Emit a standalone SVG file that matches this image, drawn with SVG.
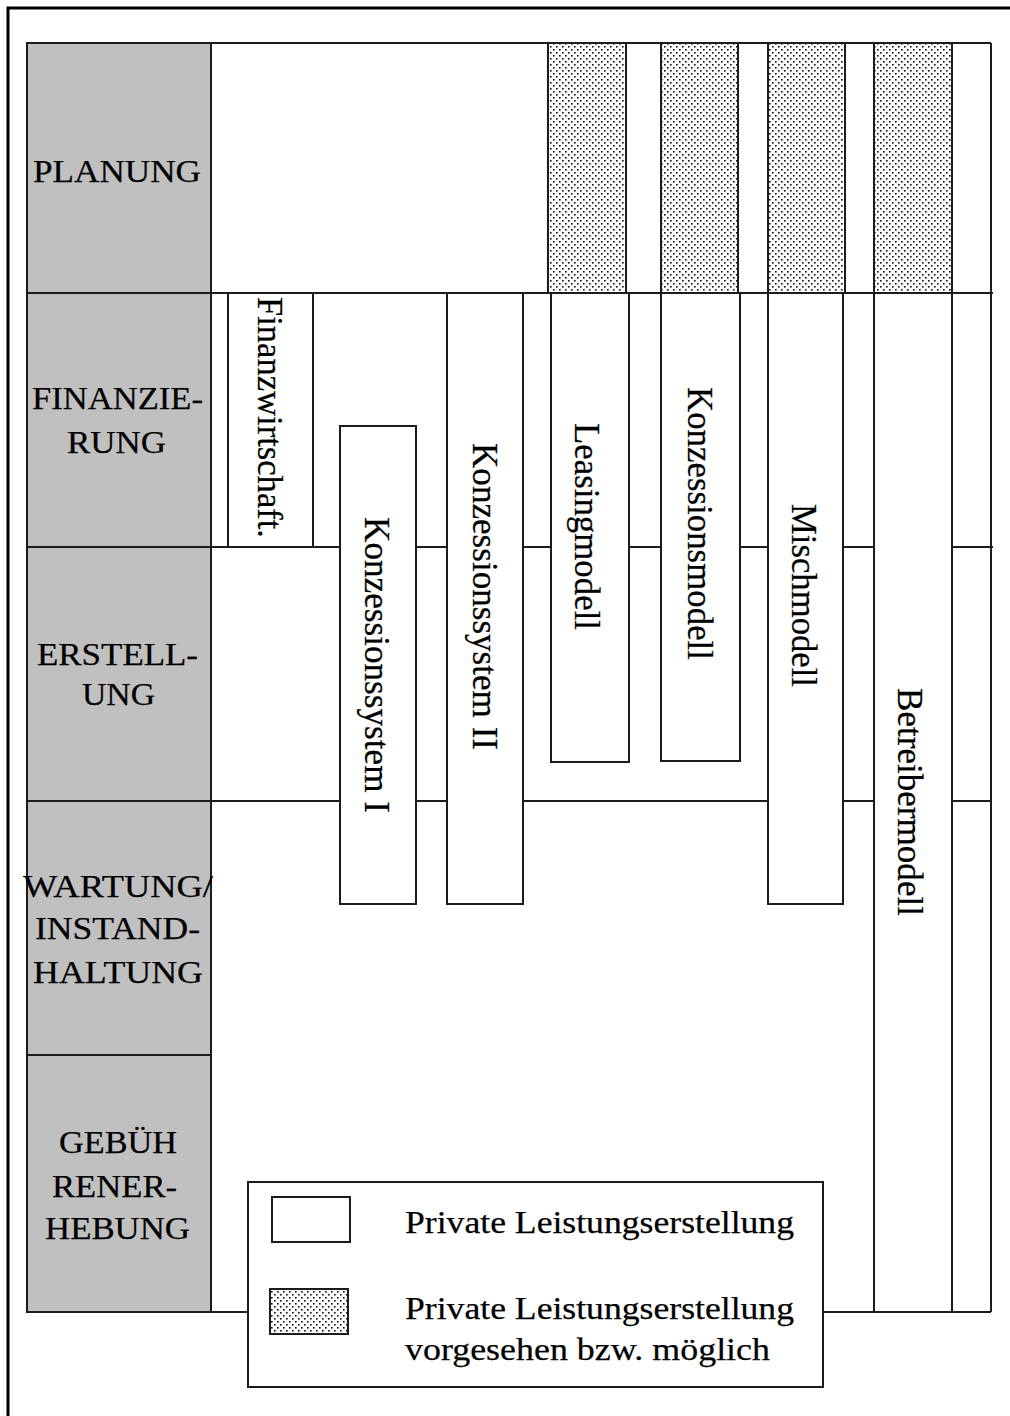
<svg xmlns="http://www.w3.org/2000/svg" width="1010" height="1416" viewBox="0 0 1010 1416">
  <style>
    .ln { stroke: #1c1c1c; stroke-width: 2; fill: none; }
    .box { stroke: #1c1c1c; stroke-width: 2; fill: #ffffff; }
    .dot { stroke: #1c1c1c; stroke-width: 2; fill: url(#stipple); }
    .hdr { fill: #c0c0c0; stroke: #1c1c1c; stroke-width: 2; }
    .lbl { font-family: "Liberation Serif", "Times New Roman", serif; font-size: 31px; fill: #000; stroke: #000; stroke-width: 0.25; }
    .vt { font-family: "Liberation Serif", "Times New Roman", serif; font-size: 36px; fill: #000; stroke: #000; stroke-width: 0.25; }
  </style>
  <defs>
    <pattern id="stipple" x="0" y="0" width="6" height="6" patternUnits="userSpaceOnUse">
      <rect width="6" height="6" fill="#ffffff"/>
      <rect x="1" y="1" width="1.6" height="1.6" fill="#111"/>
      <rect x="4" y="4" width="1.6" height="1.6" fill="#111"/>
    </pattern>
  </defs>

  <rect width="1010" height="1416" fill="#ffffff"/>

  <!-- outer frame -->
  <path d="M8 1416 V8 H1010" stroke="#000" stroke-width="3" fill="none"/>

  <!-- phase headers (left column) -->
  <g id="phase-planung">
    <rect class="hdr" x="27" y="43" width="184" height="250"/>
    <text class="lbl" x="33" y="182" textLength="168" lengthAdjust="spacingAndGlyphs">PLANUNG</text>
  </g>
  <g id="phase-finanzierung">
    <rect class="hdr" x="27" y="293" width="184" height="254"/>
    <text class="lbl" x="32" y="409" textLength="171" lengthAdjust="spacingAndGlyphs">FINANZIE-</text>
    <text class="lbl" x="67" y="453" textLength="99" lengthAdjust="spacingAndGlyphs">RUNG</text>
  </g>
  <g id="phase-erstellung">
    <rect class="hdr" x="27" y="547" width="184" height="254"/>
    <text class="lbl" x="37" y="665" textLength="161" lengthAdjust="spacingAndGlyphs">ERSTELL-</text>
    <text class="lbl" x="82" y="705" textLength="73" lengthAdjust="spacingAndGlyphs">UNG</text>
  </g>
  <g id="phase-wartung">
    <rect class="hdr" x="27" y="801" width="184" height="254"/>
    <text class="lbl" x="23" y="897" textLength="190" lengthAdjust="spacingAndGlyphs">WARTUNG/</text>
    <text class="lbl" x="35" y="939" textLength="165" lengthAdjust="spacingAndGlyphs">INSTAND-</text>
    <text class="lbl" x="33" y="983" textLength="170" lengthAdjust="spacingAndGlyphs">HALTUNG</text>
  </g>
  <g id="phase-gebuehren">
    <rect class="hdr" x="27" y="1055" width="184" height="257"/>
    <text class="lbl" x="59" y="1153" textLength="118" lengthAdjust="spacingAndGlyphs">GEBÜH</text>
    <text class="lbl" x="52" y="1197" textLength="125" lengthAdjust="spacingAndGlyphs">RENER-</text>
    <text class="lbl" x="45" y="1239" textLength="145" lengthAdjust="spacingAndGlyphs">HEBUNG</text>
  </g>

  <!-- table grid lines -->
  <g id="grid">
    <path class="ln" d="M211 43 H991 M211 293 H993 M991 43 V1312 M952 43 V1312"/>
    <path class="ln" d="M211 547 H340 M416 547 H447 M523 547 H551 M629 547 H661 M740 547 H768 M843 547 H874 M952 547 H993"/>
    <path class="ln" d="M211 801 H340 M416 801 H447 M523 801 H768 M843 801 H874 M952 801 H991"/>
    <path class="ln" d="M211 1312 H248 M823 1312 H991"/>
  </g>

  <!-- planning optional (stippled) fields -->
  <g id="planung-optional">
    <rect class="dot" x="548" y="43" width="78" height="250"/>
    <rect class="dot" x="661" y="43" width="77" height="250"/>
    <rect class="dot" x="768" y="43" width="77" height="250"/>
    <rect class="dot" x="874" y="43" width="78" height="250"/>
  </g>

  <!-- models -->
  <g id="model-finanzwirtschaft">
    <rect class="box" x="228" y="293" width="85" height="254"/>
    <text class="vt" transform="translate(258 297) rotate(90)" textLength="241" lengthAdjust="spacingAndGlyphs">Finanzwirtschaft.</text>
  </g>
  <g id="model-konzessionssystem-1">
    <rect class="box" x="340" y="426" width="76" height="478"/>
    <text class="vt" transform="translate(365 517) rotate(90)" textLength="296" lengthAdjust="spacingAndGlyphs">Konzessionssystem I</text>
  </g>
  <g id="model-konzessionssystem-2">
    <rect class="box" x="447" y="293" width="76" height="611"/>
    <text class="vt" transform="translate(473 443) rotate(90)" textLength="307" lengthAdjust="spacingAndGlyphs">Konzessionssystem II</text>
  </g>
  <g id="model-leasing">
    <rect class="box" x="551" y="293" width="78" height="469"/>
    <text class="vt" transform="translate(575 423) rotate(90)" textLength="207" lengthAdjust="spacingAndGlyphs">Leasingmodell</text>
  </g>
  <g id="model-konzession">
    <rect class="box" x="661" y="293" width="79" height="468"/>
    <text class="vt" transform="translate(688 387) rotate(90)" textLength="273" lengthAdjust="spacingAndGlyphs">Konzessionsmodell</text>
  </g>
  <g id="model-misch">
    <rect class="box" x="768" y="293" width="75" height="611"/>
    <text class="vt" transform="translate(792 504) rotate(90)" textLength="183" lengthAdjust="spacingAndGlyphs">Mischmodell</text>
  </g>
  <g id="model-betreiber">
    <rect class="box" x="874" y="293" width="78" height="1019"/>
    <text class="vt" transform="translate(898 688) rotate(90)" textLength="228" lengthAdjust="spacingAndGlyphs">Betreibermodell</text>
  </g>

  <!-- legend -->
  <g id="legend">
    <rect class="box" x="248" y="1182" width="575" height="205"/>
    <rect class="box" x="272" y="1197" width="78" height="45"/>
    <rect class="dot" x="270" y="1289" width="78" height="45"/>
    <text class="lbl" x="405" y="1233" textLength="389" lengthAdjust="spacingAndGlyphs">Private Leistungserstellung</text>
    <text class="lbl" x="405" y="1319" textLength="389" lengthAdjust="spacingAndGlyphs">Private Leistungserstellung</text>
    <text class="lbl" x="405" y="1360" textLength="365" lengthAdjust="spacingAndGlyphs">vorgesehen bzw. möglich</text>
  </g>
</svg>
